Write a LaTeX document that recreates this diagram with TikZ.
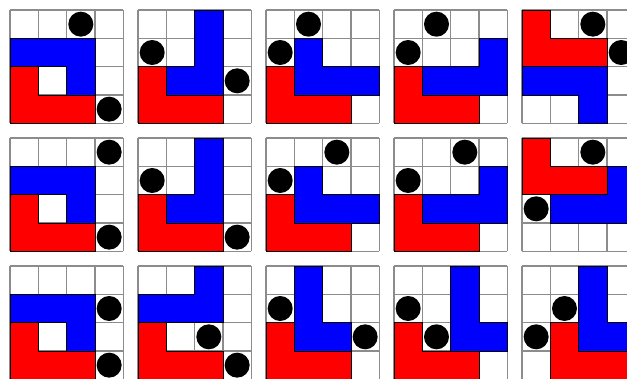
\documentclass[tikz,border=0pt]{standalone}
\usepackage{tikz}

\tikzset{
    cellline/.style={draw=black!45, line width=1.3pt},
    bluepiece/.style={fill=blue, draw=black, line width=0.9pt, line join=miter},
    redpiece/.style={fill=red, draw=black, line width=0.9pt, line join=miter},
    stonefill/.style={fill=black},
    board/.style={x=28.33pt, y=-28.33pt}
}

% empty 4x4 board, cell units
\newcommand{\emptyboard}{%
    \fill[white] (0,0) rectangle (4,4);
    \foreach \k in {0,...,4} {
        \draw[cellline] (\k,0) -- (\k,4);
        \draw[cellline] (0,\k) -- (4,\k);
    }}
% stone in column #1, row #2 (rows counted from the top)
\newcommand{\putstone}[2]{\fill[stonefill] (#1+0.5,#2+0.5) circle (12.5pt);}
% the L shape at the bottom left
\newcommand{\redlow}{\filldraw[redpiece] (0,2) -- (1,2) -- (1,3) -- (3,3) -- (3,4) -- (0,4) -- cycle;}

\begin{document}
\begin{tikzpicture}[x=1pt, y=-1pt]
    \useasboundingbox (0,0) rectangle (627,378);
    \clip (0,0) rectangle (627,378);
    \fill[white] (0,0) rectangle (627,378);

    % ---- first row ----
    \begin{scope}[shift={(10,10)}, board]
        \emptyboard
        \filldraw[bluepiece] (0,1) -- (3,1) -- (3,3) -- (2,3) -- (2,2) -- (0,2) -- cycle;
        \redlow
        \putstone{2}{0} \putstone{3}{3}
    \end{scope}
    \begin{scope}[shift={(138,10)}, board]
        \emptyboard
        \filldraw[bluepiece] (2,0) -- (3,0) -- (3,3) -- (1,3) -- (1,2) -- (2,2) -- cycle;
        \redlow
        \putstone{0}{1} \putstone{3}{2}
    \end{scope}
    \begin{scope}[shift={(266,10)}, board]
        \emptyboard
        \filldraw[bluepiece] (1,1) -- (2,1) -- (2,2) -- (4,2) -- (4,3) -- (1,3) -- cycle;
        \redlow
        \putstone{1}{0} \putstone{0}{1}
    \end{scope}
    \begin{scope}[shift={(394,10)}, board]
        \emptyboard
        \filldraw[bluepiece] (3,1) -- (4,1) -- (4,3) -- (1,3) -- (1,2) -- (3,2) -- cycle;
        \redlow
        \putstone{1}{0} \putstone{0}{1}
    \end{scope}
    \begin{scope}[shift={(522,10)}, board]
        \emptyboard
        \filldraw[redpiece] (0,0) -- (1,0) -- (1,1) -- (3,1) -- (3,2) -- (0,2) -- cycle;
        \filldraw[bluepiece] (0,2) -- (3,2) -- (3,4) -- (2,4) -- (2,3) -- (0,3) -- cycle;
        \putstone{2}{0} \putstone{3}{1}
    \end{scope}

    % ---- second row ----
    \begin{scope}[shift={(10,138)}, board]
        \emptyboard
        \filldraw[bluepiece] (0,1) -- (3,1) -- (3,3) -- (2,3) -- (2,2) -- (0,2) -- cycle;
        \redlow
        \putstone{3}{0} \putstone{3}{3}
    \end{scope}
    \begin{scope}[shift={(138,138)}, board]
        \emptyboard
        \filldraw[bluepiece] (2,0) -- (3,0) -- (3,3) -- (1,3) -- (1,2) -- (2,2) -- cycle;
        \redlow
        \putstone{0}{1} \putstone{3}{3}
    \end{scope}
    \begin{scope}[shift={(266,138)}, board]
        \emptyboard
        \filldraw[bluepiece] (1,1) -- (2,1) -- (2,2) -- (4,2) -- (4,3) -- (1,3) -- cycle;
        \redlow
        \putstone{2}{0} \putstone{0}{1}
    \end{scope}
    \begin{scope}[shift={(394,138)}, board]
        \emptyboard
        \filldraw[bluepiece] (3,1) -- (4,1) -- (4,3) -- (1,3) -- (1,2) -- (3,2) -- cycle;
        \redlow
        \putstone{2}{0} \putstone{0}{1}
    \end{scope}
    \begin{scope}[shift={(522,138)}, board]
        \emptyboard
        \filldraw[redpiece] (0,0) -- (1,0) -- (1,1) -- (3,1) -- (3,2) -- (0,2) -- cycle;
        \filldraw[bluepiece] (3,1) -- (4,1) -- (4,3) -- (1,3) -- (1,2) -- (3,2) -- cycle;
        \putstone{2}{0} \putstone{0}{2}
    \end{scope}

    % ---- third row ----
    \begin{scope}[shift={(10,266)}, board]
        \emptyboard
        \filldraw[bluepiece] (0,1) -- (3,1) -- (3,3) -- (2,3) -- (2,2) -- (0,2) -- cycle;
        \redlow
        \putstone{3}{1} \putstone{3}{3}
    \end{scope}
    \begin{scope}[shift={(138,266)}, board]
        \emptyboard
        \filldraw[bluepiece] (2,0) -- (3,0) -- (3,2) -- (0,2) -- (0,1) -- (2,1) -- cycle;
        \redlow
        \putstone{2}{2} \putstone{3}{3}
    \end{scope}
    \begin{scope}[shift={(266,266)}, board]
        \emptyboard
        \filldraw[bluepiece] (1,0) -- (2,0) -- (2,2) -- (3,2) -- (3,3) -- (1,3) -- cycle;
        \redlow
        \putstone{0}{1} \putstone{3}{2}
    \end{scope}
    \begin{scope}[shift={(394,266)}, board]
        \emptyboard
        \filldraw[bluepiece] (2,0) -- (3,0) -- (3,2) -- (4,2) -- (4,3) -- (2,3) -- cycle;
        \redlow
        \putstone{0}{1} \putstone{1}{2}
    \end{scope}
    \begin{scope}[shift={(522,266)}, board]
        \emptyboard
        \filldraw[bluepiece] (2,0) -- (3,0) -- (3,2) -- (4,2) -- (4,3) -- (2,3) -- cycle;
        \filldraw[redpiece] (1,2) -- (2,2) -- (2,3) -- (4,3) -- (4,4) -- (1,4) -- cycle;
        \putstone{1}{1} \putstone{0}{2}
    \end{scope}
\end{tikzpicture}
\end{document}
